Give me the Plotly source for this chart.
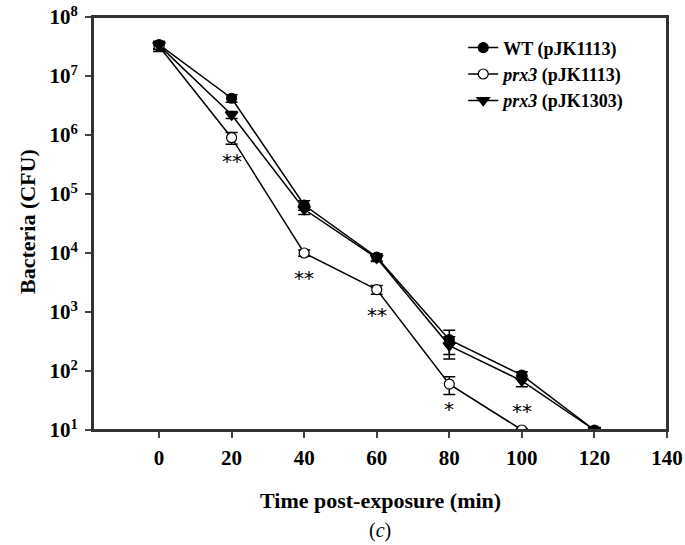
import math
import plotly.graph_objects as go

time = [0, 20, 40, 60, 80, 100, 120]
wt = [3.4e7, 4.2e6, 6.5e4, 8.5e3, 340, 85, 10]
wt_err = [5e6, 6e5, 1.2e4, 1.2e3, 150, 12, 0.5]
prx3 = [3.2e7, 9.0e5, 1.0e4, 2.4e3, 60, 10]
prx3_err = [6e6, 2.0e5, 1.2e3, 4e2, 20, 0.5]
comp = [3.3e7, 2.2e6, 5.5e4, 8.2e3, 270, 68, 10]
comp_err = [5e6, 3e5, 1.0e4, 1.0e3, 110, 14, 0.5]

y_ticks = [1e1, 1e2, 1e3, 1e4, 1e5, 1e6, 1e7, 1e8]
y_ticktext = ["<b>10<sup>%d</sup></b>" % i for i in range(1, 9)]
x_ticks = [0, 20, 40, 60, 80, 100, 120, 140]
x_ticktext = ["<b>%d</b>" % v for v in x_ticks]

# significance marks: (time, y position in CFU, text)
sig_x = [20, 40, 60, 80, 100]
sig_y = [3.6e5, 3.8e3, 9.0e2, 2.3e1, 2.1e1]
sig_text = ["**", "**", "**", "*", "**"]

serif = "Liberation Serif, Times New Roman, serif"

fig = go.Figure()

def add(name, y, err, sym, fill):
    fig.add_trace(go.Scatter(
        x=time[:len(y)], y=y, name=name, mode="lines+markers",
        line=dict(color="black", width=1.5),
        marker=dict(symbol=sym, size=10 if "circle" in sym else 11, color=fill,
                    line=dict(color="black", width=1.2)),
        error_y=dict(type="data", array=err, visible=True, color="black",
                     thickness=1.5, width=6),
    ))

add("<b>WT (pJK1113)</b>", wt, wt_err, "circle", "black")
add("<b><i>prx3</i> (pJK1113)</b>", prx3, prx3_err, "circle", "white")
add("<b><i>prx3</i> (pJK1303)</b>", comp, comp_err, "triangle-down", "black")

for sx, sy, st in zip(sig_x, sig_y, sig_text):
    fig.add_annotation(x=sx, y=math.log10(sy), text=st, showarrow=False,
                       font=dict(family="DejaVu Sans", size=20, color="black"),
                       xref="x", yref="y", xanchor="center", yanchor="middle")

# plot area in page pixels: x 93..667, y 17..430
H_PLOT = 430 - 17
W_PLOT = 667 - 93
fig.add_annotation(x=(380 - 93) / W_PLOT, y=-(500 - 430) / H_PLOT, xref="paper", yref="paper",
                   showarrow=False, text="<b>Time post-exposure (min)</b>",
                   xanchor="center", yanchor="middle",
                   font=dict(family=serif, size=22, color="black"))
fig.add_annotation(x=(380 - 93) / W_PLOT, y=-(530 - 430) / H_PLOT, xref="paper", yref="paper",
                   showarrow=False, text="(<i>c</i>)", xanchor="center", yanchor="middle",
                   font=dict(family=serif, size=20, color="black"))
fig.add_annotation(x=-(93 - 28) / W_PLOT, y=(430 - 222) / H_PLOT, xref="paper", yref="paper",
                   showarrow=False, text="<b>Bacteria (CFU)</b>", textangle=-90,
                   xanchor="center", yanchor="middle",
                   font=dict(family=serif, size=22, color="black"))

# plot frame
fig.add_shape(type="rect", xref="paper", yref="paper", x0=0, y0=0, x1=1, y1=1,
              line=dict(color="#333", width=2), layer="above")

fig.update_layout(
    width=685, height=545,
    margin=dict(l=93, r=18, t=17, b=115, autoexpand=False),
    paper_bgcolor="white", plot_bgcolor="white",
    font=dict(family=serif, color="black"),
    showlegend=True,
    legend=dict(x=0.645, y=0.97, xanchor="left", yanchor="top",
                bgcolor="rgba(0,0,0,0)", font=dict(family=serif, size=18, color="black"),
                tracegroupgap=0),
    xaxis=dict(range=[-18.2, 140], tickvals=x_ticks, ticktext=x_ticktext, ticks="outside",
               ticklen=6, tickwidth=1.5, showline=True, linecolor="#333", linewidth=2,
               mirror=True, showgrid=False, zeroline=False, automargin=False,
               tickfont=dict(family=serif, size=21, color="black"),
               ticklabelstandoff=2, ticklabeloverflow="allow"),
    yaxis=dict(type="log", range=[1, 8], tickvals=y_ticks, ticktext=y_ticktext,
               ticks="outside", ticklen=6, tickwidth=1.5, showline=True,
               linecolor="#333", linewidth=2, mirror=True, showgrid=False,
               zeroline=False, automargin=False, ticklabelstandoff=3,
               ticklabeloverflow="allow",
               tickfont=dict(family=serif, size=21, color="black")),
)

fig.write_html("out.html", config={"displayModeBar": False},
               post_script="document.body.style.margin='0';")
